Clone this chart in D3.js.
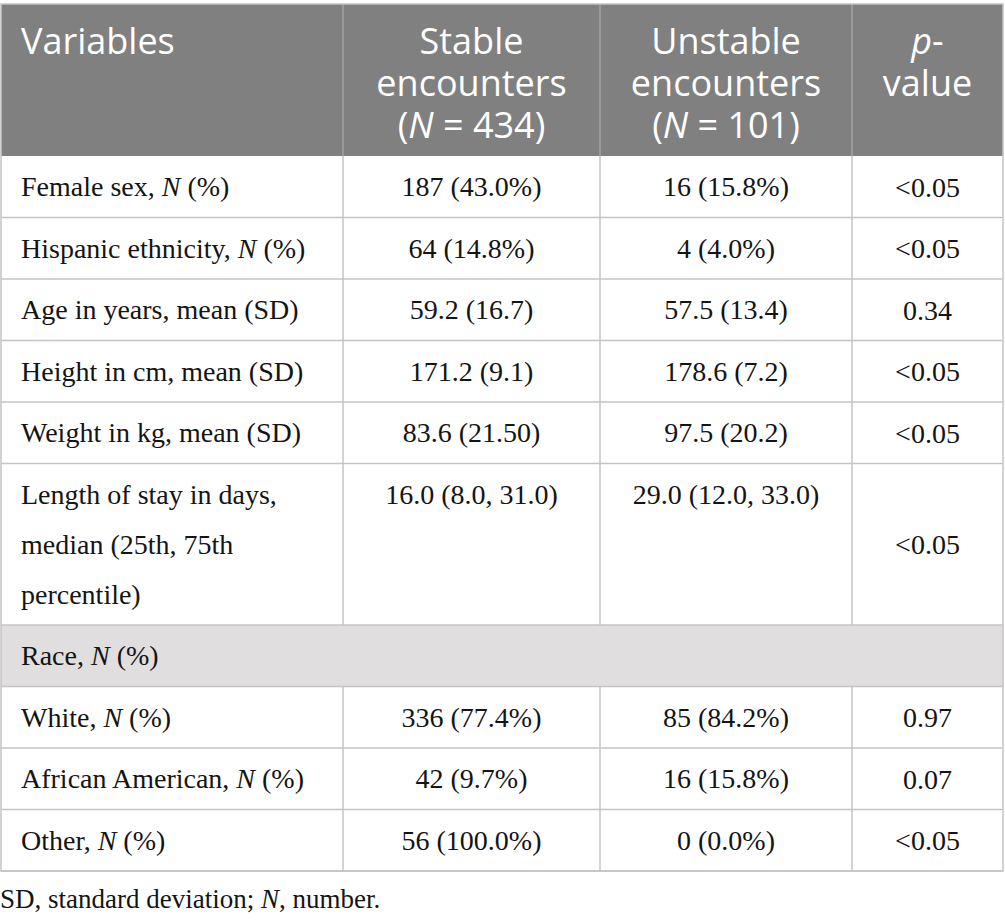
<!DOCTYPE html>
<html>
<head>
<meta charset="utf-8">
<script src="https://cdn.jsdelivr.net/npm/d3@7"></script>
<style>
  html, body { margin: 0; padding: 0; background: #ffffff; }
  svg { display: block; }
</style>
</head>
<body>
<svg id="chart" width="1005" height="922"></svg>
<script>
// ---- data ----
const headerLines = [
  ["Variables"],
  ["Stable", "encounters", "(*N* = 434)"],
  ["Unstable", "encounters", "(*N* = 101)"],
  ["*p*-", "value"]
];
const variables = [
  ["Female sex, *N* (%)"],
  ["Hispanic ethnicity, *N* (%)"],
  ["Age in years, mean (SD)"],
  ["Height in cm, mean (SD)"],
  ["Weight in kg, mean (SD)"],
  ["Length of stay in days,", "median (25th, 75th", "percentile)"],
  ["Race, *N* (%)"],
  ["White, *N* (%)"],
  ["African American, *N* (%)"],
  ["Other, *N* (%)"]
];
const stableValues = ["187 (43.0%)", "64 (14.8%)", "59.2 (16.7)", "171.2 (9.1)", "83.6 (21.50)", "16.0 (8.0, 31.0)", null, "336 (77.4%)", "42 (9.7%)", "56 (100.0%)"];
const unstableValues = ["16 (15.8%)", "4 (4.0%)", "57.5 (13.4)", "178.6 (7.2)", "97.5 (20.2)", "29.0 (12.0, 33.0)", null, "85 (84.2%)", "16 (15.8%)", "0 (0.0%)"];
const pValues = ["<0.05", "<0.05", "0.34", "<0.05", "<0.05", "<0.05", null, "0.97", "0.07", "<0.05"];
const sectionRows = [6];
const footnote = "SD, standard deviation; *N*, number.";

// ---- layout ----
const svg = d3.select("#chart");
const colEdges = [1, 343, 600, 852, 1003];
const headerTop = 4, headerBottom = 156;
const singleRow = 61.5, lineStep = 50;
const borderColor = "#c4c4c4";
const serif = "'Liberation Serif', 'Times New Roman', serif";
const sans = "'Open Sans', 'Noto Sans', sans-serif";

const rowHeights = variables.map(v => singleRow + (v.length - 1) * lineStep);
const rowTops = [];
let acc = headerBottom;
rowHeights.forEach(h => { rowTops.push(acc); acc += h; });
const tableBottom = acc;

const colX = i => colEdges[i];
const colMid = i => (colEdges[i] + colEdges[i + 1]) / 2;

// multi-line rich text in ONE text element
function addLines(sel, lines, xPos, step) {
  lines.forEach((ln, k) => {
    const parts = ln.split("*");
    let first = true;
    parts.forEach((p, i) => {
      if (p === "") return;
      const ts = sel.append("tspan").attr("font-style", i % 2 === 1 ? "italic" : "normal").text(p);
      if (first) {
        ts.attr("x", xPos);
        if (k > 0) ts.attr("dy", step);
        first = false;
      }
    });
  });
}

// header background
svg.append("rect").attr("x", colX(0)).attr("y", headerTop)
  .attr("width", colX(4) - colX(0)).attr("height", headerBottom - headerTop)
  .attr("fill", "#808080");

sectionRows.forEach(r => {
  svg.append("rect").attr("x", colX(0)).attr("y", rowTops[r])
    .attr("width", colX(4) - colX(0)).attr("height", rowHeights[r])
    .attr("fill", "#e0dedf");
});

// header text
headerLines.forEach((lines, c) => {
  const xp = c === 0 ? colX(0) + 20 : colMid(c);
  const t = svg.append("text")
    .attr("x", xp).attr("y", 54)
    .attr("text-anchor", c === 0 ? "start" : "middle")
    .attr("font-family", sans).attr("font-size", 36)
    .attr("fill", "#ffffff");
  addLines(t, lines, xp, 42);
});

[1, 2, 3].forEach(c => {
  svg.append("line").attr("x1", colX(c)).attr("x2", colX(c))
    .attr("y1", headerTop).attr("y2", headerBottom)
    .attr("stroke", "#a3a3a3").attr("stroke-width", 1.5);
});

// body
variables.forEach((lines, r) => {
  const top = rowTops[r];
  const lx = colX(0) + 20;
  const t = svg.append("text")
    .attr("x", lx).attr("y", top + 40)
    .attr("font-family", serif).attr("font-size", 28).attr("fill", "#141414");
  addLines(t, lines, lx, lineStep);

  const isSection = sectionRows.includes(r);
  [stableValues[r], unstableValues[r]].forEach((v, j) => {
    if (v == null) return;
    svg.append("text").attr("x", colMid(j + 1)).attr("y", top + 40)
      .attr("text-anchor", "middle")
      .attr("font-family", serif).attr("font-size", 28).attr("fill", "#141414")
      .text(v);
  });
  if (pValues[r] != null) {
    svg.append("text").attr("x", colMid(3))
      .attr("y", top + rowHeights[r] / 2 + 10)
      .attr("text-anchor", "middle")
      .attr("font-family", serif).attr("font-size", 28).attr("fill", "#141414")
      .text(pValues[r]);
  }
  if (!isSection) {
    [1, 2, 3].forEach(c => {
      svg.append("line").attr("x1", colX(c)).attr("x2", colX(c))
        .attr("y1", top).attr("y2", top + rowHeights[r])
        .attr("stroke", borderColor).attr("stroke-width", 1.5);
    });
  }
  svg.append("line").attr("x1", colX(0)).attr("x2", colX(4))
    .attr("y1", top + rowHeights[r]).attr("y2", top + rowHeights[r])
    .attr("stroke", borderColor).attr("stroke-width", 1.5);
});

svg.append("rect").attr("x", colX(0)).attr("y", headerTop)
  .attr("width", colX(4) - colX(0)).attr("height", tableBottom - headerTop)
  .attr("fill", "none").attr("stroke", borderColor).attr("stroke-width", 1.5);

const fn = svg.append("text").attr("x", 0).attr("y", tableBottom + 37)
  .attr("font-family", serif).attr("font-size", 27).attr("fill", "#141414");
addLines(fn, [footnote], 0, 0);
</script>
</body>
</html>
